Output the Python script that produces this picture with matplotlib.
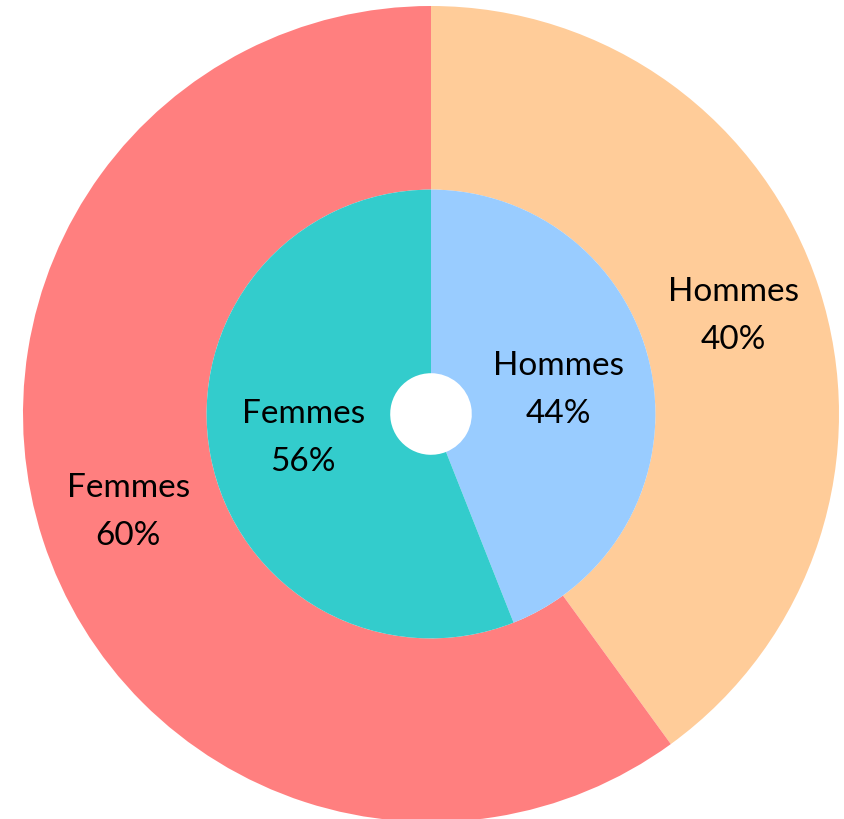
import matplotlib.pyplot as plt

outer_labels = ['Hommes', 'Femmes']
outer_values = [40, 60]
outer_colors = ['#FFCC99', '#FF7F7F']

inner_labels = ['Hommes', 'Femmes']
inner_values = [44, 56]
inner_colors = ['#99CCFF', '#33CCCC']

plt.rcParams['font.family'] = ['Lato', 'DejaVu Sans']

fig = plt.figure(figsize=(8.45, 8.19), dpi=100)
ax = fig.add_axes([23 / 845, 1 - 822 / 819, 816 / 845, 816 / 819])

text_style = dict(fontsize=24, ha='center', va='center', linespacing=1.75)

ax.pie(outer_values, radius=1.0, colors=outer_colors, startangle=90,
       counterclock=False, labels=[f'{l}\n{v}%' for l, v in zip(outer_labels, outer_values)],
       labeldistance=0.78, wedgeprops=dict(width=0.45, linewidth=0),
       textprops=text_style)
ax.pie(inner_values, radius=0.55, colors=inner_colors, startangle=90,
       counterclock=False, labels=[f'{l}\n{v}%' for l, v in zip(inner_labels, inner_values)],
       labeldistance=0.58, wedgeprops=dict(width=0.45, linewidth=0),
       textprops=text_style)
ax.set_xlim(-1, 1)
ax.set_ylim(-1, 1)
ax.set_aspect('equal')
ax.axis('off')

fig.savefig('out.png', dpi=100)
